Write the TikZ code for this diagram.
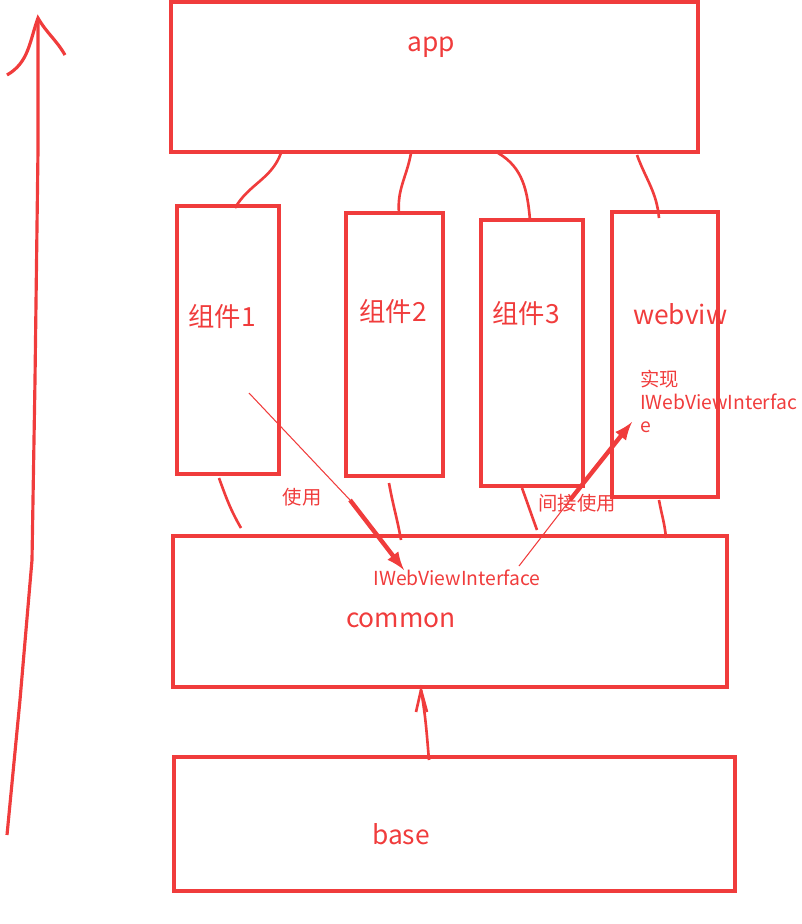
\documentclass[tikz,border=0pt]{standalone}
\usepackage{fontspec}
\setmainfont{Noto Sans CJK SC}
\usepackage{xcolor}
\definecolor{pen}{HTML}{F03C3C}
\begin{document}
\begin{tikzpicture}[x=0.02cm,y=-0.02cm,
  box/.style={draw=pen,line width=2.2pt,inner sep=0pt},
  lbl/.style={text=pen,font=\fontsize{15}{15}\selectfont},
  note/.style={text=pen,font=\fontsize{11}{13}\selectfont},
  link/.style={pen,line width=1.5pt}]
\useasboundingbox (0,0) rectangle (802,924);
\node[box,minimum width=527*0.02cm,minimum height=150*0.02cm] (app) at (434.5,77) {};
\node[box,minimum width=102*0.02cm,minimum height=268*0.02cm] (c1) at (228,340) {};
\node[box,minimum width=97*0.02cm,minimum height=263*0.02cm] (c2) at (394.5,344.5) {};
\node[box,minimum width=102*0.02cm,minimum height=266*0.02cm] (c3) at (532,353) {};
\node[box,minimum width=106*0.02cm,minimum height=285*0.02cm] (web) at (665,354.5) {};
\node[box,minimum width=554*0.02cm,minimum height=151*0.02cm] (common) at (450,611.5) {};
\node[box,minimum width=561*0.02cm,minimum height=134*0.02cm] (base) at (454.5,824) {};
% texts
\node[lbl] (tapp) at (431,47) {app};
\node[lbl] (t1) at (222,316) {组件1};
\node[lbl] (t2) at (393,311) {组件2};
\node[lbl] (t3) at (526,313) {组件3};
\node[lbl,anchor=west] (tweb) at (627,314) {webviw};
\node[lbl] (tcommon) at (401,620) {common};
\node[lbl] (tbase) at (401,834) {base};
\node[note] (iface) at (457,578) {IWebViewInterface};
\node[note] (use) at (302,497) {使用};
\node[note] (iuse) at (577,503) {间接使用};
\node[note,anchor=north west,align=left] (impl) at (634,364) {实现\\IWebViewInterfac\\e};
% links
\draw[link] (281,153) to[out=250,in=60] (235,208);
\draw[link] (411,153) to[out=260,in=95] (399,213);
\draw[link] (498,153) to[out=-30,in=95] (530,220);
\draw[link] (637,155) to[out=-70,in=95] (659,218);
\draw[link] (219,478) to[out=-70,in=120] (241,528);
\draw[link] (389,483) to[out=-80,in=100] (401,540);
\draw[link] (522,488) to[out=-70,in=110] (537,530);
\draw[link] (659,500) to[out=-80,in=95] (666,538);
\draw[link] (429,760) to[out=95,in=-80] (421,690);
\draw[link] (416,712) -- (421,690) -- (427,712);
% arrows
\coordinate (s1) at (249,393);
\coordinate (s2) at (519,566);
\draw[pen,line width=0.6pt] (s1) -- (350,500);
\draw[pen,line width=2.5pt,-latex] (350,500) -- (404,570);
\draw[pen,line width=0.6pt] (s2) -- (570,500);
\draw[pen,line width=2.5pt,-latex] (570,500) -- (632,422);
\draw[pen,line width=1.8pt] (7,835) -- (20,700) -- (32,560) -- (35,380) -- (38,150) -- (38,20);
\draw[pen,line width=1.8pt] (7,75) to[out=30,in=-110] (38,18) to[out=-60,in=120] (65,55);
\end{tikzpicture}
\end{document}
